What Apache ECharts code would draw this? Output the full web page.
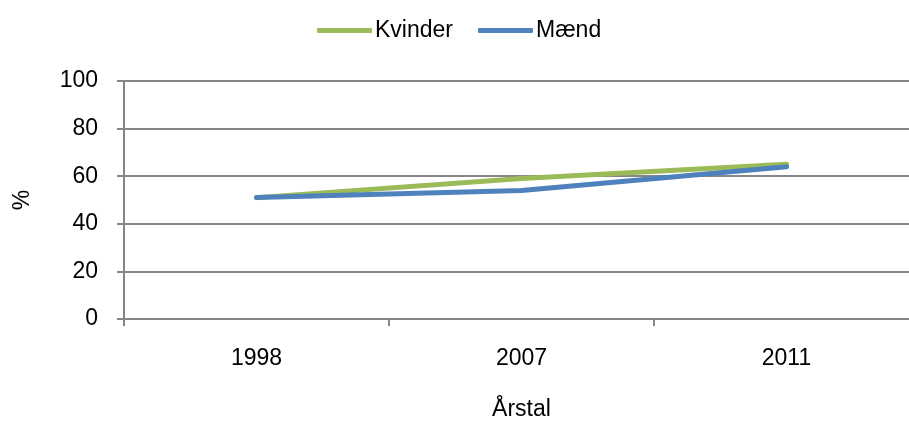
<!DOCTYPE html>
<html><head><meta charset="utf-8">
<script src="https://cdn.jsdelivr.net/npm/echarts@6/dist/echarts.min.js"></script>
<style>html,body{margin:0;padding:0;background:#fff}#c{width:909px;height:423px}</style>
</head><body><div id="c"></div>
<script>
const categories = ['1998', '2007', '2011'];
const kvinder = [51, 59, 65];
const maend = [51, 54, 64];
const yTicks = [0, 20, 40, 60, 80, 100];

const font = 'Liberation Sans, Arial, sans-serif';
const chart = echarts.init(document.getElementById('c'));
chart.setOption({
  animation: false,
  legend: {
    top: 14, left: 312, itemWidth: 55, itemHeight: 5, itemGap: 25,
    icon: 'roundRect',
    textStyle: { fontFamily: font, fontSize: 23, color: '#000', padding: [0,0,0,-2] },
    data: ['Kvinder', 'Mænd']
  },
  grid: { left: 124, top: 81, width: 795, height: 238, containLabel: false, outerBoundsMode: 'none' },
  xAxis: {
    type: 'category', data: categories, boundaryGap: true,
    name: 'Årstal', nameLocation: 'middle', nameGap: 79,
    nameTextStyle: { fontFamily: font, fontSize: 23, color: '#000' },
    axisLine: { lineStyle: { color: '#868686', width: 2 } },
    axisTick: { show: true, length: 7, alignWithLabel: false, lineStyle: { color: '#868686', width: 2 } },
    axisLabel: { fontFamily: font, fontSize: 23, color: '#000', margin: 28 }
  },
  yAxis: {
    type: 'value', min: yTicks[0], max: yTicks[yTicks.length-1], interval: 20,
    name: '%', nameLocation: 'middle', nameGap: 90, nameRotate: 90,
    nameTextStyle: { fontFamily: font, fontSize: 23, color: '#000' },
    axisLine: { show: true, lineStyle: { color: '#868686', width: 2 } },
    axisTick: { show: true, length: 7, lineStyle: { color: '#868686', width: 2 } },
    axisLabel: { fontFamily: font, fontSize: 23, color: '#000', margin: 26 },
    splitLine: { lineStyle: { color: '#868686', width: 2 } }
  },
  series: [
    { name: 'Kvinder', type: 'line', data: kvinder, showSymbol: false, symbol: 'none',
      lineStyle: { color: '#9BBB59', width: 5, cap: 'round' }, itemStyle: { color: '#9BBB59' } },
    { name: 'Mænd', type: 'line', data: maend, showSymbol: false, symbol: 'none',
      lineStyle: { color: '#4F81BD', width: 5, cap: 'round' }, itemStyle: { color: '#4F81BD' } }
  ]
});
</script></body></html>
